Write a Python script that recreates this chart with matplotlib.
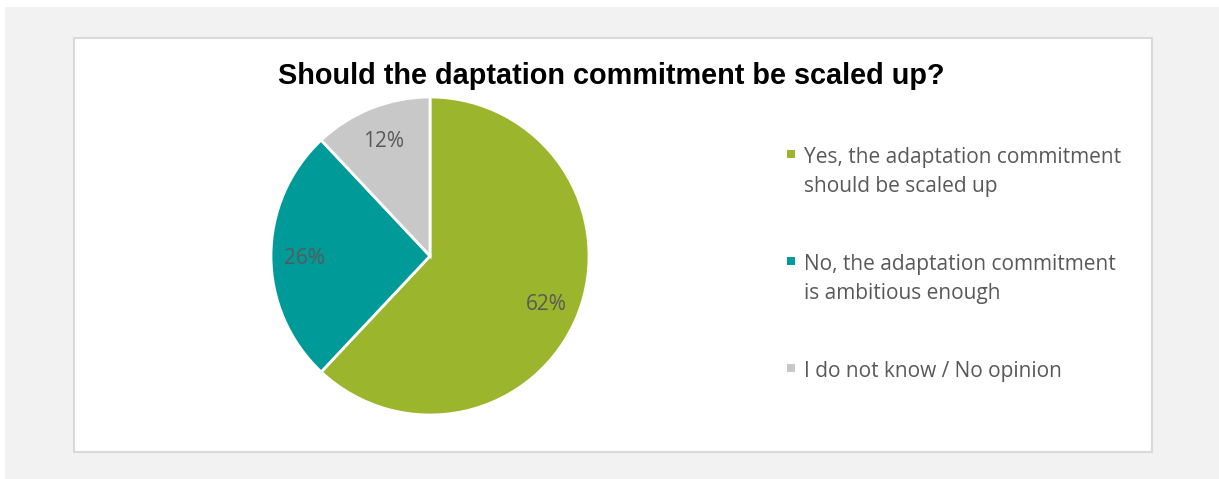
import matplotlib
matplotlib.use("Agg")
import matplotlib.pyplot as plt
from matplotlib.patches import Rectangle

# survey answers
answers = [
    "Yes, the adaptation commitment\nshould be scaled up",
    "No, the adaptation commitment\nis ambitious enough",
    "I do not know / No opinion",
]
shares = [62, 26, 12]
colors = ["#9bb52c", "#009a98", "#c8c8c8"]
title = "Should the daptation commitment be scaled up?"

W, H = 1219, 479
fig = plt.figure(figsize=(W / 100, H / 100), dpi=100, facecolor="white")


def px_rect(x0, y0, x1, y1):
    # pixel box (top-left origin) -> figure fraction rect
    return (x0 / W, 1 - y1 / H, (x1 - x0) / W, (y1 - y0) / H)


def add_box(x0, y0, x1, y1, **kw):
    l, b, w, h = px_rect(x0, y0, x1, y1)
    fig.patches.append(Rectangle((l, b), w, h, transform=fig.transFigure, **kw))


# grey backdrop and white chart area
add_box(5, 7, W, H, facecolor="#f2f2f2", edgecolor="none", zorder=-3)
add_box(74, 38, 1152, 452, facecolor="white", edgecolor="#d9d9d9", linewidth=1.5, zorder=-2)

fig.text(611 / W, 1 - 84 / H, title, ha="center", va="baseline",
         fontsize=20.8, fontweight="bold", family="Liberation Sans", color="black")

# pie
cx, cy, r = 430, 256, 159
ax = fig.add_axes(px_rect(cx - r, cy - r, cx + r, cy + r))
ax.set_zorder(2)
wedges, _, autotexts = ax.pie(
    shares, colors=colors, startangle=90, counterclock=False,
    autopct="%1.0f%%", pctdistance=0.79, radius=1,
    wedgeprops=dict(edgecolor="white", linewidth=2),
    textprops=dict(fontsize=15, color="#595959", family="Open Sans"),
)
for t in autotexts:
    t.set_va("center_baseline")
ax.set_xlim(-1, 1)
ax.set_ylim(-1, 1)
ax.set_aspect("equal")
ax.axis("off")

# legend: square marker next to the first line of each entry
y = 162.7
for label, color in zip(answers, colors):
    add_box(787, y - 12.7, 795, y - 4.7, facecolor=color, edgecolor="none", zorder=3)
    for line in label.split("\n"):
        fig.text(804 / W, 1 - y / H, line, ha="left", va="baseline",
                 fontsize=15, family="Open Sans", color="#595959")
        y += 29
    y += 49

fig.savefig("out.png", dpi=100, facecolor="white")
